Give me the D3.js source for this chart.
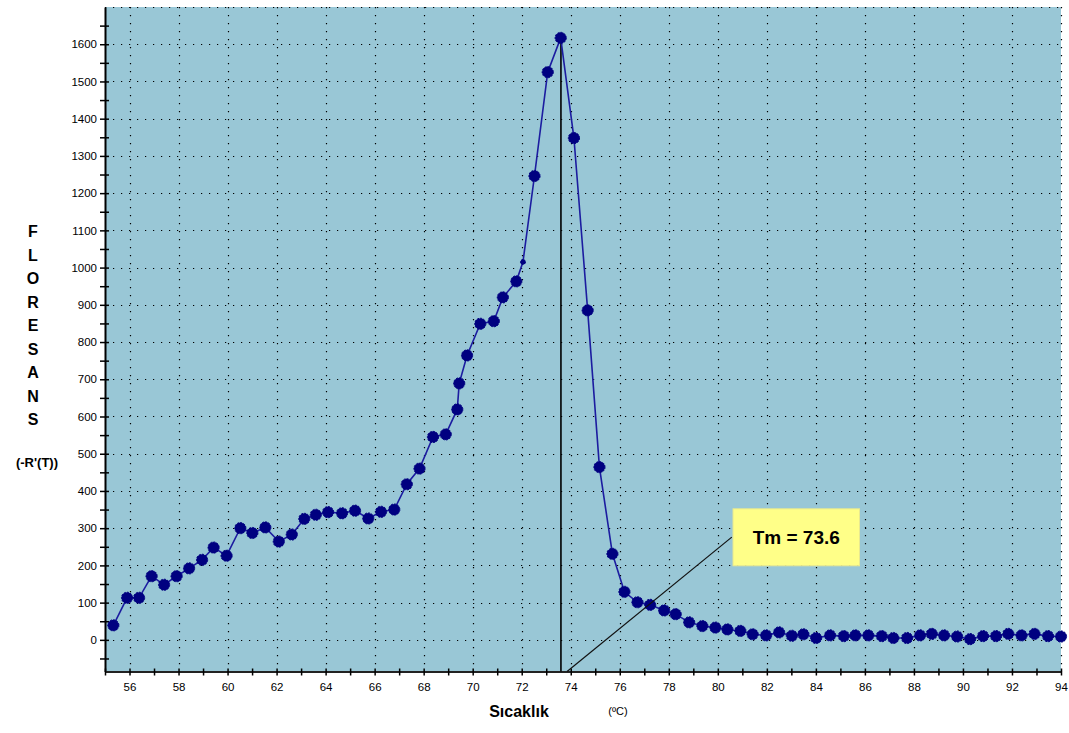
<!DOCTYPE html>
<html><head><meta charset="utf-8">
<script src="https://cdn.jsdelivr.net/npm/d3@7"></script>
<style>html,body{margin:0;padding:0;background:#fff;}svg{display:block;}</style>
</head><body>
<script>
const temps = [55.34,55.90,56.39,56.90,57.41,57.92,58.43,58.96,59.43,59.96,
 60.52,61.01,61.54,62.09,62.62,63.13,63.60,64.10,64.67,65.20,
 65.74,66.26,66.80,67.31,67.83,68.38,68.90,69.37,69.45,69.77,
 70.31,70.86,71.23,71.78,72.05,72.52,73.06,73.59,74.13,74.69,
 75.17,75.70,76.19,76.72,77.24,77.81,78.28,78.83,79.37,79.90,
 80.39,80.92,81.42,81.97,82.50,83.02,83.49,84.01,84.58,85.14,
 85.61,86.14,86.69,87.16,87.72,88.25,88.73,89.23,89.76,90.29,
 90.82,91.35,91.85,92.39,92.92,93.47,94.0];
const fluor = [39,113,113,171,148,171,192,215,248,226,
 300,287,302,264,283,325,336,343,340,347,
 326,344,350,418,460,545,552,619,689,764,
 849,856,920,963,1015,1246,1525,1617,1348,885,
 464,231,129,101,94,79,69,47,37,33,
 28,24,15,12,20,11,15,5,12,10,
 12,12,10,5,5,12,16,12,9,2,
 10,10,16,12,16,10,9];
const smallMarkers = [72.05];
const tm = 73.6, tmPeak = 1617;
const tmLabel = "Tm = 73.6";
const xTickLabels = d3.range(56, 95, 2);
const yTickLabels = d3.range(0, 1601, 100);
const yTitle = "FLORESANS".split("");

const W = 1069, H = 733;
const L = 105, R = 1061, T = 7, B = 671.5;
const x = d3.scaleLinear().domain([55, 94]).range([L, R]);
const y = d3.scaleLinear().domain([-85, 1700]).range([B, T]);

const svg = d3.select("body").append("svg").attr("width", W).attr("height", H)
  .style("font-family", "Arial, 'Liberation Sans', sans-serif");

svg.append("rect").attr("x", L).attr("y", T).attr("width", R - L).attr("height", B - T)
  .attr("fill", "#99C7D6");

// grid
const g = svg.append("g");
g.selectAll(".hg").data(d3.range(0, 1701, 100)).join("line")
  .attr("x1", L).attr("x2", R).attr("y1", d => Math.round(y(d)) + 0.5).attr("y2", d => Math.round(y(d)) + 0.5)
  .attr("stroke", "#000").attr("stroke-width", 1.2).attr("stroke-dasharray", "1.2,6.8");
g.selectAll(".vg").data(xTickLabels).join("line")
  .attr("y1", T).attr("y2", B).attr("x1", d => Math.round(x(d)) + 0.5).attr("x2", d => Math.round(x(d)) + 0.5)
  .attr("stroke", "#000").attr("stroke-width", 1.2).attr("stroke-dasharray", "1.2,6.8");

// axes
const yAxis = d3.axisLeft(y).tickValues(d3.range(-50, 1651, 50))
  .tickFormat(d => yTickLabels.includes(d) ? d : "").tickSizeInner(4).tickSizeOuter(0).tickPadding(5);
const ya = svg.append("g").attr("transform", `translate(${L},0)`).call(yAxis);
ya.select(".domain").attr("stroke", "#000").attr("stroke-width", 2);
ya.selectAll(".tick line").attr("x2", 4).attr("x1", -5).attr("stroke", "#000").attr("stroke-width", 1.5);
ya.selectAll("text").attr("font-size", 11.5).attr("fill", "#000").attr("x", -8);

const xAxis = d3.axisBottom(x).tickValues(d3.range(55, 95, 1))
  .tickFormat(d => xTickLabels.includes(d) ? d : "").tickSizeInner(5).tickSizeOuter(0).tickPadding(6);
const xa = svg.append("g").attr("transform", `translate(0,${B})`).call(xAxis);
xa.select(".domain").attr("stroke", "#222").attr("stroke-width", 2);
xa.selectAll(".tick line").attr("y1", -3).attr("y2", 4).attr("stroke", "#000").attr("stroke-width", 1.5);
xa.selectAll("text").attr("font-size", 11.5).attr("fill", "#000");

// annotation vertical line
svg.append("line").attr("x1", x(tm)).attr("x2", x(tm)).attr("y1", y(tmPeak)).attr("y2", B)
  .attr("stroke", "#000").attr("stroke-width", 1.6);

// series
const pts = temps.map((t, i) => [t, fluor[i]]);
svg.append("path").datum(pts)
  .attr("d", d3.line().x(d => x(d[0])).y(d => y(d[1])))
  .attr("fill", "none").attr("stroke", "#1c1ca0").attr("stroke-width", 1.6);
svg.selectAll(".pt").data(pts).join("circle")
  .attr("cx", d => x(d[0])).attr("cy", d => y(d[1]))
  .attr("r", d => smallMarkers.includes(d[0]) ? 2.5 : 5.6)
  .attr("fill", "#000080").attr("stroke", "#000080").attr("stroke-width", 1)
  .attr("stroke-dasharray", "2,1.2");

// diagonal leader + label box
svg.append("line").attr("x1", x(73.85)).attr("y1", B).attr("x2", x(80.57)).attr("y2", y(276))
  .attr("stroke", "#111").attr("stroke-width", 1.2);
svg.append("rect").attr("x", x(80.62)).attr("y", y(352)).attr("width", x(85.78) - x(80.62))
  .attr("height", y(199) - y(352)).attr("fill", "#FFFF88").attr("stroke", "#e8e890").attr("stroke-width", 1);
svg.append("text").attr("x", (x(80.62) + x(85.78)) / 2).attr("y", (y(352) + y(199)) / 2 + 7)
  .attr("text-anchor", "middle").attr("font-size", 19).attr("font-weight", "bold").attr("fill", "#000")
  .text(tmLabel);

// titles
svg.selectAll(".yt").data(yTitle).join("text")
  .attr("x", 33).attr("y", (d, i) => 237 + i * 23.5).attr("text-anchor", "middle")
  .attr("font-size", 16).attr("font-weight", "bold").attr("fill", "#000").text(d => d);
svg.append("text").attr("x", 37).attr("y", 467).attr("text-anchor", "middle")
  .attr("font-size", 13).attr("font-weight", "bold").attr("fill", "#000").text("(-R'(T))");
svg.append("text").attr("x", 519).attr("y", 717).attr("text-anchor", "middle")
  .attr("font-size", 16).attr("font-weight", "bold").attr("fill", "#000").text("Sıcaklık");
svg.append("text").attr("x", 618).attr("y", 715).attr("text-anchor", "middle")
  .attr("font-size", 11).attr("fill", "#000").text("(ºC)");
</script>
</body></html>
